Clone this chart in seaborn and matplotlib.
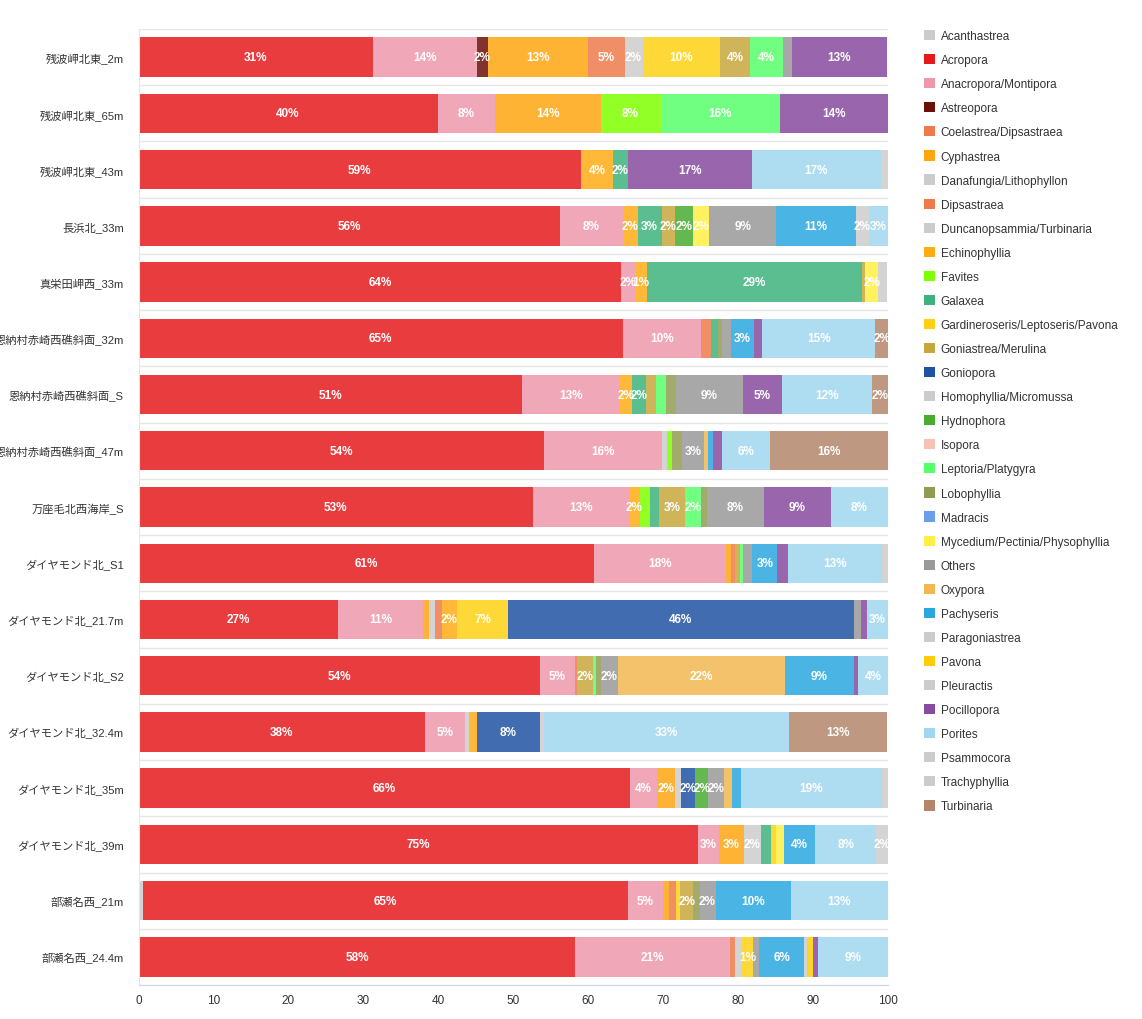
import numpy as np
import pandas as pd
import seaborn as sns
import matplotlib.pyplot as plt
from matplotlib.colors import to_rgb
from matplotlib.patches import Patch

sites = ['残波岬北東_2m', '残波岬北東_65m', '残波岬北東_43m', '長浜北_33m', '真栄田岬西_33m',
         '恩納村赤崎西礁斜面_32m', '恩納村赤崎西礁斜面_S', '恩納村赤崎西礁斜面_47m', '万座毛北西海岸_S',
         'ダイヤモンド北_S1', 'ダイヤモンド北_21.7m', 'ダイヤモンド北_S2', 'ダイヤモンド北_32.4m',
         'ダイヤモンド北_35m', 'ダイヤモンド北_39m', '部瀬名西_21m', '部瀬名西_24.4m']

genera = ['Acanthastrea', 'Acropora', 'Anacropora/Montipora', 'Astreopora', 'Coelastrea/Dipsastraea',
          'Cyphastrea', 'Danafungia/Lithophyllon', 'Dipsastraea', 'Duncanopsammia/Turbinaria',
          'Echinophyllia', 'Favites', 'Galaxea', 'Gardineroseris/Leptoseris/Pavona', 'Goniastrea/Merulina',
          'Goniopora', 'Homophyllia/Micromussa', 'Hydnophora', 'Isopora', 'Leptoria/Platygyra',
          'Lobophyllia', 'Madracis', 'Mycedium/Pectinia/Physophyllia', 'Others', 'Oxypora', 'Pachyseris',
          'Paragoniastrea', 'Pavona', 'Pleuractis', 'Pocillopora', 'Porites', 'Psammocora',
          'Trachyphyllia', 'Turbinaria']

# cover (%) per genus, one value per site (top to bottom)
acanthastrea = [0, 0, 0, 0, 0, 0, 0, 0, 0, 0, 0, 0, 0, 0, 0, 0.65, 0]
acropora = [31.3, 39.9, 59.0, 56.2, 64.4, 64.6, 51.2, 54.1, 52.6, 60.8, 26.6, 53.6, 38.2, 65.6, 74.6, 64.6, 58.3]
anacropora = [13.8, 7.7, 0, 8.4, 1.9, 10.4, 13.1, 15.7, 12.8, 17.6, 11.4, 4.6, 5.3, 3.6, 2.85, 4.7, 20.6]
astreopora = [1.55, 0, 0, 0, 0, 0, 0, 0, 0, 0, 0, 0, 0, 0, 0, 0, 0]
coelastrea = [0, 0, 0, 0, 0, 0.5, 0, 0, 0, 0, 0, 0, 0, 0, 0, 0, 0]
cyphastrea = [13.3, 14.05, 0, 0, 0, 0, 0, 0, 0, 0.65, 0.7, 0, 0, 2.4, 3.3, 0.85, 0]
danafungia = [0, 0, 0, 0, 0, 0, 0, 0, 0, 0, 0.8, 0, 0.6, 0.8, 2.3, 0, 0]
dipsastraea = [4.9, 0, 0, 0, 0, 0.9, 0, 0, 0, 0.6, 1.0, 0.25, 0, 0, 0, 0.85, 0.65]
duncanopsammia = [2.4, 0, 0, 0, 0, 0, 0, 0.7, 0, 0, 0, 0, 0, 0, 0, 0, 1.0]
echinophyllia = [0, 0, 4.3, 2.0, 1.48, 0, 1.5, 0, 1.5, 0, 2.0, 0, 1.0, 0, 0, 0, 0]
favites = [0, 8.0, 0, 0, 0, 0, 0, 0.65, 1.4, 0, 0, 0, 0, 0, 0, 0, 0]
galaxea = [0, 0, 2.0, 3.2, 28.7, 0.9, 1.9, 0, 1.2, 0, 0, 0, 0, 0, 1.3, 0, 0]
gardineroseris = [10.4, 0, 0, 0, 0, 0, 0, 0, 0, 0, 6.8, 0, 0, 0, 0.7, 0.6, 1.47]
goniastrea = [3.9, 0, 0, 1.8, 0.45, 0, 1.3, 0, 3.4, 0.6, 0, 2.2, 0, 0, 0, 1.75, 0]
goniopora = [0, 0, 0, 0, 0, 0, 0, 0, 0, 0, 46.1, 0, 8.5, 1.9, 0, 0, 0]
homophyllia = [0, 0, 0, 0, 0, 0, 0, 0, 0, 0, 0, 0, 0.5, 0, 0, 0, 0]
hydnophora = [0, 0, 0, 2.4, 0, 0, 0, 0, 0, 0, 0, 0, 0, 1.75, 0, 0, 0]
isopora = [0] * 17
leptoria = [4.4, 15.9, 0, 0, 0, 0, 1.4, 0, 2.1, 0.4, 0, 0.4, 0, 0, 0, 0, 0]
lobophyllia = [0, 0, 0, 0, 0, 0.6, 1.3, 1.4, 0.85, 0, 0, 0.65, 0, 0, 0, 0.85, 0]
madracis = [0] * 17
mycedium = [0, 0, 0, 2.1, 1.8, 0, 0, 0, 0, 0, 0, 0, 0, 0, 1.1, 0, 0]
others = [1.2, 0, 0, 9.0, 0, 1.2, 8.9, 2.85, 7.6, 1.2, 1.0, 2.3, 0, 2.1, 0, 2.15, 0.8]
oxypora = [0, 0, 0, 0, 0, 0, 0, 0.65, 0, 0, 0, 22.3, 0, 1.0, 0, 0, 0]
pachyseris = [0, 0, 0, 10.6, 0, 3.0, 0, 0.6, 0, 3.4, 0, 9.1, 0, 1.2, 4.1, 10.0, 6.0]
paragoniastrea = [0, 0, 0, 1.7, 0, 0, 0, 0, 0, 0, 0, 0, 0, 0, 0, 0, 0.4]
pavona = [0, 0, 0, 0, 0, 0, 0, 0, 0, 0, 0, 0, 0, 0, 0, 0, 0.8]
pleuractis = [0] * 17
pocillopora = [12.7, 14.4, 16.6, 0, 0, 1.1, 5.2, 1.2, 8.9, 1.35, 0.85, 0.65, 0, 0, 0, 0, 0.7]
porites = [0, 0, 17.1, 2.6, 0, 15.1, 12.0, 6.4, 7.6, 12.6, 2.7, 3.95, 32.7, 18.8, 8.2, 13.05, 9.3]
psammocora = [0, 0, 1.0, 0, 1.2, 0, 0, 0, 0, 0.8, 0, 0, 0, 0.85, 1.55, 0, 0]
trachyphyllia = [0] * 17
turbinaria = [0, 0, 0, 0, 0, 1.7, 2.2, 15.7, 0, 0, 0, 0, 13.1, 0, 0, 0, 0]

series = [acanthastrea, acropora, anacropora, astreopora, coelastrea, cyphastrea, danafungia,
          dipsastraea, duncanopsammia, echinophyllia, favites, galaxea, gardineroseris, goniastrea,
          goniopora, homophyllia, hydnophora, isopora, leptoria, lobophyllia, madracis, mycedium,
          others, oxypora, pachyseris, paragoniastrea, pavona, pleuractis, pocillopora, porites,
          psammocora, trachyphyllia, turbinaria]

colors = ['#cccccc', '#e41a1c', '#ed99ab', '#6b1008', '#ed7b4b', '#ffa510', '#cccccc', '#ed7b4b',
          '#cccccc', '#ffab14', '#7fff00', '#3eb27e', '#fdd112', '#c6a73d', '#1f52a2', '#cccccc',
          '#47ac30', '#f5c3b3', '#57ff6a', '#919c52', '#6a9ee8', '#ffee44', '#999999', '#f2b750',
          '#2aa7e0', '#cccccc', '#ffcc0a', '#cccccc', '#874ba0', '#a0d6ee', '#cccccc', '#cccccc',
          '#b2866a']


def faded(c, a=0.85):
    # bars are drawn semi-transparent on white
    return tuple(a * np.array(to_rgb(c)) + (1 - a))


sns.set_style('white')
plt.rcParams['font.family'] = ['Liberation Sans', 'Noto Sans CJK JP', 'DejaVu Sans']

df = pd.DataFrame(dict(zip(genera, series)), index=sites)
cum = df.cumsum(axis=1)
cum['site'] = sites

fig = plt.figure(figsize=(11.42, 10.2), dpi=100)
ax = fig.add_axes([138.5 / 1142, 1 - 986 / 1020, 749.5 / 1142, 956 / 1020])

# stacked bars: draw cumulative totals from the last genus back to the first
for g, c in reversed(list(zip(genera, colors))):
    if df[g].sum() == 0:
        continue
    sns.barplot(data=cum, x=g, y='site', order=sites, orient='h', color=faded(c),
                saturation=1, width=0.7, errorbar=None, linewidth=0, ax=ax)

for i, s in enumerate(sites):
    left = 0
    for g in genera:
        w = df.loc[s, g]
        if w >= 1.45:
            ax.text(left + w / 2, i, f'{w:.0f}%', ha='center', va='center',
                    color='white', fontsize=8.5, fontweight='bold')
        left += w

ax.set_xlim(0, 100)
ax.set_ylim(16.5, -0.5)
ax.set_xticks(range(0, 101, 10))
ax.set_yticks(range(len(sites)))
ax.set_yticklabels(sites)
ax.set_yticks(np.arange(-0.5, 17, 1), minor=True)
ax.yaxis.grid(True, which='minor', color='#e6e6e6', lw=1)
ax.set_axisbelow(True)
ax.set_xlabel('')
ax.set_ylabel('')
ax.tick_params(axis='y', which='both', length=0, labelsize=8.1, labelcolor='#333333', pad=10.5)
ax.tick_params(axis='x', length=4, width=1, color='#ccd6eb', labelsize=8.5, labelcolor='#333333', pad=2.5)
for side in ['top', 'right']:
    ax.spines[side].set_visible(False)
ax.spines['left'].set_color('#e6e6e6')
ax.spines['bottom'].set_color('#ccd6eb')

handles = [Patch(facecolor=c, edgecolor='none') for c in colors]
fig.legend(handles, genera, loc='upper left', bbox_to_anchor=(924 / 1142, 1 - 31 / 1020),
           frameon=False, fontsize=8.5, handlelength=0.95, handleheight=0.95, handletextpad=0.45,
           labelspacing=1.01, borderpad=0, borderaxespad=0, labelcolor='#333333')

fig.savefig('out.png', dpi=100)
